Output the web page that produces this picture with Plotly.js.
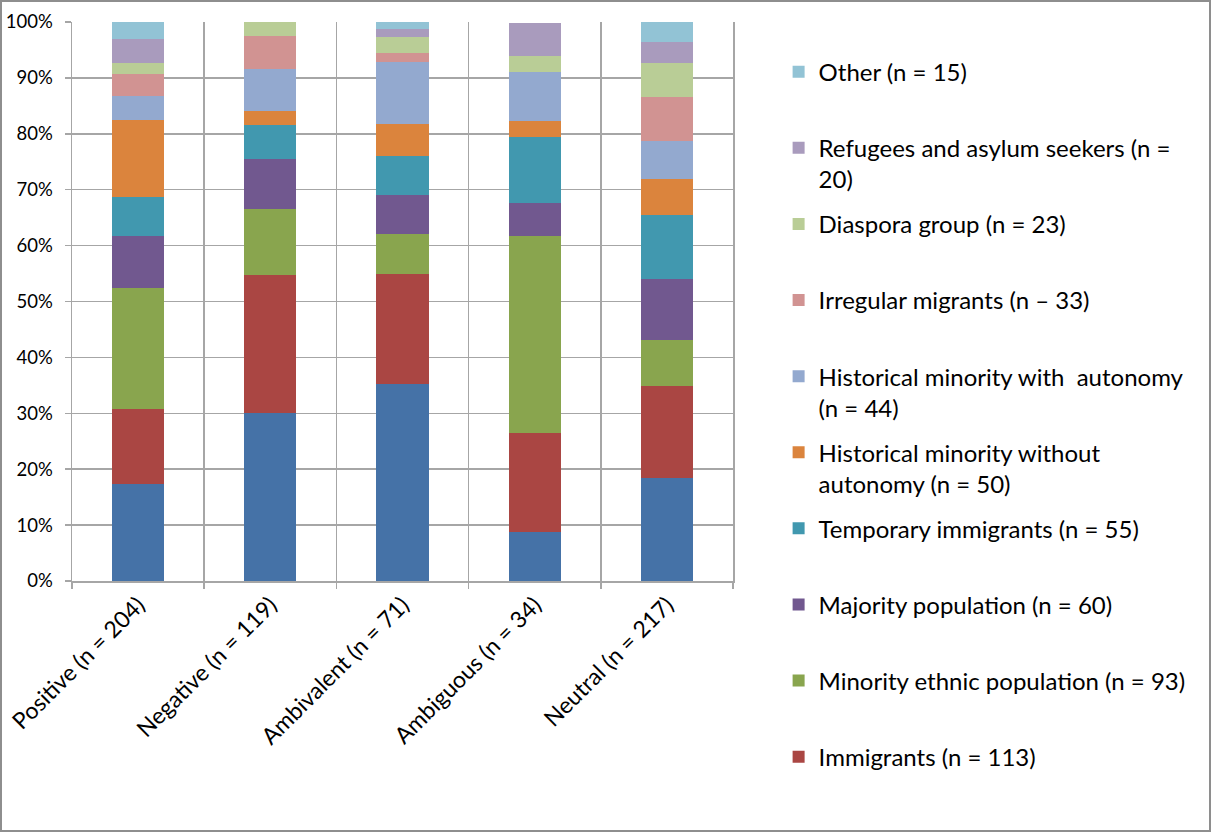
<!DOCTYPE html>
<html>
<head>
<meta charset="utf-8">
<script src="https://cdn.plot.ly/plotly-3.0.1.min.js"></script>
<style>
  html, body { margin: 0; padding: 0; background: #ffffff; }
  #frame { position: absolute; left: 0; top: 0; width: 1207px; height: 828px; border: 2px solid #8e8e8e; background: #fff; }
  #chart { width: 1207px; height: 828px; }
</style>
</head>
<body>
<div id="frame"><div id="chart"></div></div>
<script>
// Categories (x axis)
const categories = ["Positive (n = 204)", "Negative (n = 119)", "Ambivalent (n = 71)", "Ambiguous (n = 34)", "Neutral (n = 217)"];

// Series values, percent of each bar (bottom to top)
const unlabeled         = [17.3, 30.1, 35.2,  8.8, 18.5];
const immigrants        = [13.5, 24.6, 19.7, 17.6, 16.4];
const minorityEthnic    = [21.7, 11.9,  7.1, 35.3,  8.3];
const majorityPop       = [ 9.3,  8.9,  7.1,  5.9, 10.9];
const temporaryImm      = [ 6.9,  6.0,  6.9, 11.8, 11.4];
const histWithout       = [13.8,  2.6,  5.7,  2.9,  6.4];
const histWith          = [ 4.2,  7.5, 11.2,  8.8,  6.8];
const irregular         = [ 4.0,  5.9,  1.6,  0.0,  7.9];
const diaspora          = [ 2.0,  2.5,  2.8,  2.9,  6.1];
const refugees          = [ 4.3,  0.0,  1.4,  5.9,  3.7];
const other             = [ 3.0,  0.0,  1.3,  0.0,  3.6];

// Legend labels
const seriesNames = [
  "",
  "Immigrants (n = 113)<br>&nbsp;",
  "Minority ethnic population (n = 93)<br>&nbsp;",
  "Majority population (n = 60)<br>&nbsp;",
  "Temporary immigrants (n = 55)<br>&nbsp;",
  "Historical minority without<br>autonomy (n = 50)",
  "Historical minority with  autonomy<br>(n = 44)",
  "Irregular migrants (n \u2013 33)<br>&nbsp;",
  "Diaspora group (n = 23)<br>&nbsp;",
  "Refugees and asylum seekers (n =<br>20)",
  "Other (n = 15)<br>&nbsp;"
];
const seriesValues = [unlabeled, immigrants, minorityEthnic, majorityPop, temporaryImm, histWithout, histWith, irregular, diaspora, refugees, other];
const seriesColors = ["#4572A7", "#AA4643", "#89A54E", "#71588F", "#4198AF", "#DB843D", "#93A9CF", "#D19392", "#B9CD96", "#A99BBD", "#92C3D5"];

const traces = seriesValues.map((vals, i) => ({
  type: "bar",
  x: categories,
  y: vals,
  name: seriesNames[i],
  legendgroup: "g" + i,
  legendrank: 1000 - i,
  showlegend: i !== 0,
  marker: { color: seriesColors[i], line: { width: 0 } },
  hoverinfo: "x+y+name"
}));

const FONT = "Lato, 'Open Sans', 'DejaVu Sans', sans-serif";
const GRID = "#a6a6a6";

const layout = {
  width: 1207,
  height: 828,
  margin: { l: 70, r: 476, t: 20, b: 249, pad: 0 },
  paper_bgcolor: "#ffffff",
  plot_bgcolor: "#ffffff",
  barmode: "stack",
  bargap: 0.605,
  font: { family: FONT, color: "#000000" },
  showlegend: true,
  legend: {
    x: 1.069, xanchor: "left",
    y: 0.9505, yanchor: "top",
    traceorder: "grouped",
    tracegroupgap: 10.7,
    valign: "top",
    maxheight: 820,
    font: { family: FONT, size: 24, color: "#000000" },
    bgcolor: "rgba(0,0,0,0)",
    borderwidth: 0
  },
  xaxis: {
    type: "category",
    tickson: "boundaries",
    ticks: "outside",
    ticklen: 6,
    tickcolor: GRID,
    tickwidth: 1.5,
    showgrid: true,
    gridcolor: GRID,
    gridwidth: 1.5,
    showline: true,
    linecolor: GRID,
    linewidth: 1.5,
    tickangle: -45,
    tickfont: { family: FONT, size: 23, color: "#000000" },
    range: [-0.5, 4.5],
    fixedrange: true
  },
  yaxis: {
    range: [0, 100],
    tickmode: "linear",
    tick0: 0,
    dtick: 10,
    ticksuffix: "%",
    ticks: "outside",
    ticklen: 6,
    tickcolor: GRID,
    tickwidth: 1.5,
    ticklabelstandoff: 8,
    showgrid: true,
    gridcolor: GRID,
    gridwidth: 1.5,
    showline: true,
    mirror: true,
    linecolor: GRID,
    linewidth: 1.5,
    zeroline: false,
    tickfont: { family: FONT, size: 18.5, color: "#000000" },
    fixedrange: true
  }
};

Plotly.newPlot("chart", traces, layout, { displayModeBar: false, staticPlot: true });
</script>
</body>
</html>
